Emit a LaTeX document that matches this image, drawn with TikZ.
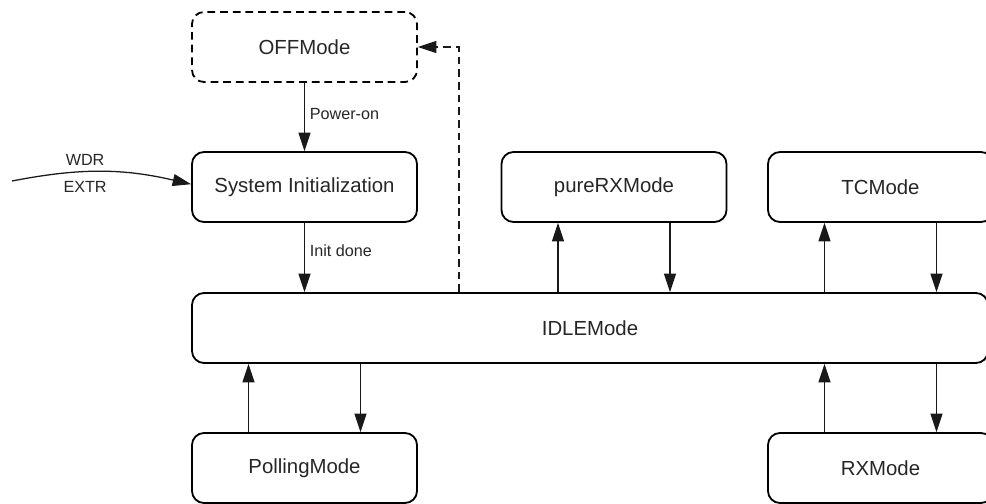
\documentclass[tikz,border=0pt]{standalone}
\usepackage{fontspec}
\setmainfont{Liberation Sans}
\usetikzlibrary{arrows.meta}

\begin{document}
\begin{tikzpicture}
\tikzset{
	m/.style={draw=black, rounded corners=0.3cm, line width=1.3pt, minimum width=5.625cm, minimum height=1.75cm, text=black!85, font=\fontsize{14.5}{17}\selectfont},
	t/.style={text=black!85, font=\fontsize{11.5}{13}\selectfont},
	c/.style={->, line width=0.9pt, draw=black!90},
	>={Triangle[length=0.46cm, width=0.3cm]}
}
\useasboundingbox (0,0) rectangle (24.65,12.575);
\clip (0,0) rectangle (24.65,12.575);

% modes
\node[m, dash pattern=on 5.5pt off 3.5pt] (off) at(7.6125,11.4) {OFFMode};
\node[m] (init) at(7.6125,7.9) {System Initialization};
\node[m] (pure) at(15.35,7.9) {pureRXMode};
\node[m] (tc) at(22.0125,7.9) {TCMode};
\node[m, minimum width=19.9cm, label={[t, font=\fontsize{14.5}{17}\selectfont]center:IDLEMode}] (idle) at(14.75,4.375) {};
\node[m] (poll) at(7.6125,0.875) {PollingMode};
\node[m] (rx) at(22.0125,0.875) {RXMode};

% reset
\coordinate (rst) at(0.3,8.05);
\draw[c] (rst) to[bend left=12] node[t, pos=0.4, above=1pt] {WDR} node[t, pos=0.4, below=3pt] {EXTR} ([yshift=0.07cm]init.west);

% start up
\draw[c] (off) -- node[t, right, pos=0.45] {Power-on} (init);
\draw[c] (init) -- node[t, right, pos=0.4] {Init done} (init.south |- idle.north);
\draw[c, dash pattern=on 5.5pt off 3.5pt] ([xshift=-3.275cm]idle.north) |- (off.east);

% idle <-> modes
\draw[c] ([xshift=-1.4cm]poll.north) -- ([xshift=-1.4cm]poll.north |- idle.south);
\draw[c] ([xshift=1.4cm]poll.north |- idle.south) -- ([xshift=1.4cm]poll.north);
\draw[c] ([xshift=-1.4cm]pure.south |- idle.north) -- ([xshift=-1.4cm]pure.south);
\draw[c] ([xshift=1.4cm]pure.south) -- ([xshift=1.4cm]pure.south |- idle.north);
\draw[c] ([xshift=-1.4cm]tc.south |- idle.north) -- ([xshift=-1.4cm]tc.south);
\draw[c] ([xshift=1.4cm]tc.south) -- ([xshift=1.4cm]tc.south |- idle.north);
\draw[c] ([xshift=-1.4cm]rx.north) -- ([xshift=-1.4cm]rx.north |- idle.south);
\draw[c] ([xshift=1.4cm]rx.north |- idle.south) -- ([xshift=1.4cm]rx.north);

\end{tikzpicture}
\end{document}
